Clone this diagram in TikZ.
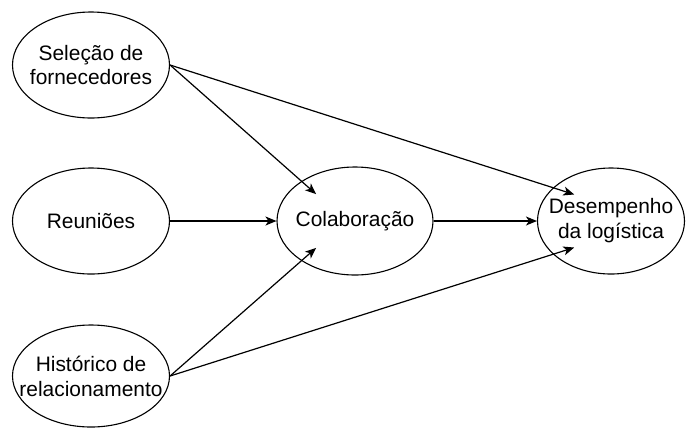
\documentclass[tikz,border=0pt]{standalone}
\usepackage{fontspec}
\setmainfont{Liberation Sans}
\usetikzlibrary{shapes.geometric,arrows.meta}
\begin{document}
\begin{tikzpicture}[x=1bp,y=-1bp,
  % negative inner sep lets the minimum size alone fix each ellipse
  bubble/.style={draw, line width=1.1bp, ellipse, inner xsep=-80bp, inner ysep=-40bp,
    minimum width=157bp, minimum height=106bp, align=center,
    font=\fontsize{21}{25}\selectfont},
  link/.style={line width=1.2bp,
    -{Stealth[length=11bp,width=9bp,inset=3bp]}}]
\useasboundingbox (0,0) rectangle (686,427);
% source constructs
\node[bubble] (sel) at (91,65) {Seleção de\\fornecedores};
\node[bubble] (reu) at (91,221) {Reuniões};
\node[bubble, minimum height=102bp] (his) at (91,376) {Histórico de\\relacionamento};
% mediator and outcome
\node[bubble, minimum width=156bp, minimum height=108bp] (col) at (355,221) {Colaboração};
\node[bubble, minimum width=147bp, minimum height=106bp] (des) at (611,221) {Desempenho\\da logística};
% paths
\draw[link] (sel.east) -- ([shift={(135:55bp and 38bp)}]col.center);
\draw[link] (sel.east) -- ([shift={(135:52bp and 37.5bp)}]des.center);
\draw[link] (reu.east) -- (col.west);
\draw[link] (col.east) -- (des.west);
\draw[link] (his.east) -- ([shift={(-135:55bp and 38bp)}]col.center);
\draw[link] (his.east) -- ([shift={(-135:52bp and 37.5bp)}]des.center);
\end{tikzpicture}
\end{document}
